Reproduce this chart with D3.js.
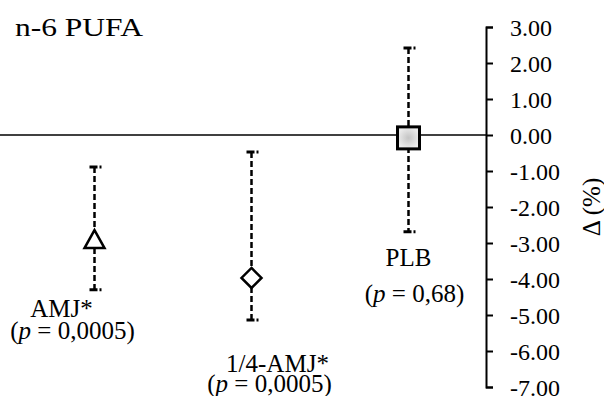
<!DOCTYPE html>
<html>
<head>
<meta charset="utf-8">
<script src="https://cdn.jsdelivr.net/npm/d3@7"></script>
<style>
  body { margin: 0; background: #fff; }
  text { font-family: "Liberation Serif", "Times New Roman", serif; fill: #000; }
</style>
</head>
<body>
<div id="chart-area"></div>
<script>
// data
var categories = ["AMJ*", "1/4-AMJ*", "PLB"];
var pValues = ["0,0005", "0,0005", "0,68"];
var means = [-2.92, -3.97, -0.08];
var lower = [-4.30, -5.14, -2.69];
var upper = [-0.89, -0.47, 2.42];
var shapes = ["triangle", "diamond", "square"];
var tickValues = [3, 2, 1, 0, -1, -2, -3, -4, -5, -6, -7];

var width = 604;
var height = 396;

var svg = d3.select("#chart-area").append("svg")
    .attr("width", width)
    .attr("height", height);

var defs = svg.append("defs");
var grad = defs.append("radialGradient").attr("id", "sqfill");
grad.append("stop").attr("offset", "0%").attr("stop-color", "#c4c4c4");
grad.append("stop").attr("offset", "100%").attr("stop-color", "#ececec");

var x = d3.scalePoint()
    .domain(categories)
    .range([16, 487])
    .padding(0.5);

var y = d3.scaleLinear()
    .domain([-7, 3])
    .range([387, 27]);

var axisX = 486;

// zero line
svg.append("line")
    .attr("x1", 0).attr("x2", axisX)
    .attr("y1", y(0)).attr("y2", y(0))
    .attr("stroke", "#000").attr("stroke-width", 1.5);

// right axis
var rightAxis = d3.axisRight(y)
    .tickValues(tickValues)
    .tickSize(7)
    .tickSizeOuter(7)
    .tickFormat(function(d) { return (d < 0 ? "-" : "") + Math.abs(d).toFixed(2); });

var ax = svg.append("g")
    .attr("transform", "translate(" + axisX + ",0)")
    .call(rightAxis);
ax.select(".domain").attr("stroke", "#000").attr("stroke-width", 2);
ax.selectAll(".tick line").attr("stroke", "#000").attr("stroke-width", 2);
ax.selectAll(".tick text")
    .attr("x", 24)
    .attr("dy", "0.34em")
    .attr("font-size", "24px")
    .style("font-family", "'Liberation Serif', serif")
    .attr("fill", "#000");

// axis label
svg.append("text")
    .attr("transform", "translate(600,207) rotate(-90)")
    .attr("text-anchor", "middle")
    .attr("font-size", "25px")
    .text("Δ (%)");

// title
svg.append("text")
    .attr("x", 15)
    .attr("y", 36)
    .attr("font-size", "25px")
    .attr("textLength", 128)
    .attr("lengthAdjust", "spacingAndGlyphs")
    .text("n-6 PUFA");

// error bars
var g = svg.append("g");
categories.forEach(function(c, i) {
    var cx = x(c);
    g.append("line")
        .attr("x1", cx).attr("x2", cx)
        .attr("y1", y(upper[i])).attr("y2", y(lower[i]))
        .attr("stroke", "#000").attr("stroke-width", 2.5)
        .attr("stroke-dasharray", "6,3");
    [upper[i], lower[i]].forEach(function(v) {
        g.append("line")
            .attr("x1", cx - 5).attr("x2", cx + 8)
            .attr("y1", y(v)).attr("y2", y(v))
            .attr("stroke", "#000").attr("stroke-width", 3)
            .attr("stroke-dasharray", "8,2,2");
    });
});

// markers
categories.forEach(function(c, i) {
    var cx = x(c), cy = y(means[i]);
    if (shapes[i] === "triangle") {
        g.append("path")
            .attr("d", "M" + cx + "," + (cy - 10) + "L" + (cx + 10) + "," + (cy + 8) + "L" + (cx - 10) + "," + (cy + 8) + "Z")
            .attr("fill", "#fff").attr("stroke", "#000").attr("stroke-width", 2.5);
    } else if (shapes[i] === "diamond") {
        g.append("path")
            .attr("d", "M" + cx + "," + (cy - 10) + "L" + (cx + 10) + "," + cy + "L" + cx + "," + (cy + 10) + "L" + (cx - 10) + "," + cy + "Z")
            .attr("fill", "#fff").attr("stroke", "#000").attr("stroke-width", 2.5);
    } else {
        g.append("rect")
            .attr("x", cx - 11).attr("y", cy - 11)
            .attr("width", 22).attr("height", 22)
            .attr("fill", "url(#sqfill)").attr("stroke", "#000").attr("stroke-width", 3);
    }
});

// category labels
var labelPos = [
    {dx: -33, y1: 317, dx2: -22, y2: 339},
    {dx: 26, y1: 372, dx2: 18, y2: 392},
    {dx: 0, y1: 266, dx2: 6, y2: 302}
];
categories.forEach(function(c, i) {
    var lp = labelPos[i];
    g.append("text")
        .attr("x", x(c) + lp.dx).attr("y", lp.y1)
        .attr("text-anchor", "middle")
        .attr("font-size", "25px")
        .text(c);
    var t = g.append("text")
        .attr("x", x(c) + lp.dx2).attr("y", lp.y2)
        .attr("text-anchor", "middle")
        .attr("font-size", "25px");
    t.append("tspan").text("(");
    t.append("tspan").attr("font-style", "italic").text("p");
    t.append("tspan").text(" = " + pValues[i] + ")");
});
</script>
</body>
</html>
